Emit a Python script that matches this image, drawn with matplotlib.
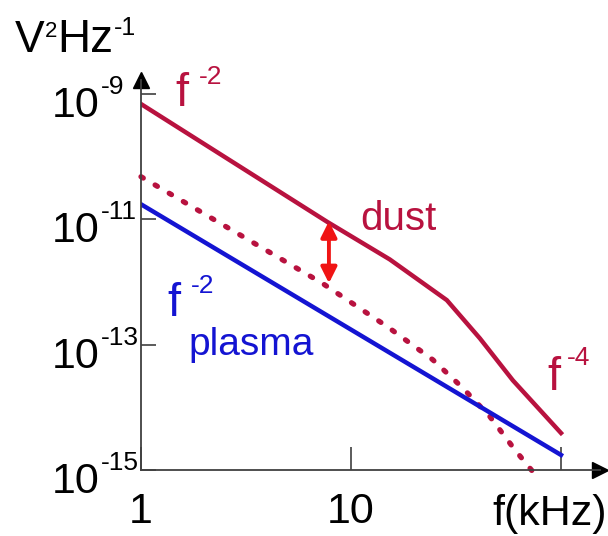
import numpy as np
import matplotlib
matplotlib.use("Agg")
import matplotlib.pyplot as plt

plt.rcParams["font.family"] = ["Liberation Sans", "DejaVu Sans"]

DUST = "#b8123f"
BLUE = "#1414d2"
ARROW = "#f01414"
AXIS = "#404040"

# values: f in kHz, log10 of spectral density in V^2/Hz
dust_f = [1, 7.7, 15.3, 28.6, 41.1, 59.0, 100]
dust_log_s = [-9.16, -11.04, -11.64, -12.29, -12.9, -13.57, -14.41]
dust_low_f = [1, 7.3, 15.0, 24.5, 33.8, 45.9, 60.4, 76.9]
dust_low_log_s = [-10.32, -12.02, -12.72, -13.24, -13.68, -14.15, -14.68, -15.11]
plasma_f = [1, 10, 100]
plasma_log_s = [-10.76, -12.76, -14.76]
gap_f = 7.85
gap_log_s = [-11.03, -12.02]

ytick_exp = [-9, -11, -13, -15]
xtick_vals = [1, 10, 100]
xtick_labels = ["1", "10", ""]

W, H = 608, 536
fig = plt.figure(figsize=(W / 100, H / 100), dpi=100)
ax = fig.add_axes([141 / W, 1 - 470 / H, (600 - 141) / W, (470 - 80) / H])
ax.set_xscale("log")
ax.set_yscale("log")
ax.set_xlim(1, 10 ** ((600 - 141) / 210))
ax.set_ylim(1e-15, 10 ** (-15 + (470 - 80) / 62.67))

ax.plot(dust_f, 10 ** np.array(dust_log_s), color=DUST, lw=3.2,
        solid_joinstyle="round")
ax.plot(dust_low_f, 10 ** np.array(dust_low_log_s), color=DUST, lw=3.8,
        ls=(0, (0.5, 2.6)), dash_capstyle="round", clip_on=False)
ax.plot(plasma_f, 10 ** np.array(plasma_log_s), color=BLUE, lw=3.2)
ax.annotate("", xy=(gap_f, 10 ** gap_log_s[0]), xytext=(gap_f, 10 ** gap_log_s[1]),
            arrowprops=dict(arrowstyle="<|-|>", color=ARROW, lw=2.8,
                            mutation_scale=24, shrinkA=0, shrinkB=0))

# axes with arrow heads
for side in ["top", "right"]:
    ax.spines[side].set_visible(False)
for side in ["left", "bottom"]:
    ax.spines[side].set_color(AXIS)
    ax.spines[side].set_linewidth(1.3)
ax.plot(1, 0, ">", color="black", ms=12, transform=ax.transAxes, clip_on=False)
ax.plot(0, 1, "^", color="black", ms=11, transform=ax.transAxes, clip_on=False)

ax.minorticks_off()
ax.set_xticks(xtick_vals)
ax.set_xticklabels(xtick_labels)
ax.set_yticks([10.0 ** e for e in ytick_exp])
ax.set_yticklabels([])
ax.tick_params(axis="x", direction="in", length=16.5, width=1.2, color=AXIS,
               labelsize=31, pad=16)
ax.tick_params(axis="y", direction="in", length=11, width=1.2, color=AXIS)

renderer = fig.canvas.get_renderer()


def rich_text(x, y, parts, color="black"):
    # x, y: pixels from the top-left, y is the baseline
    # parts: (text, fontsize, rise in px, gap before in px)
    for s, size, rise, gap in parts:
        x += gap
        t = fig.text(x / W, 1 - (y - rise) / H, s, fontsize=size, color=color,
                     ha="left", va="baseline")
        x = t.get_window_extent(renderer=renderer).x1


for e in ytick_exp:
    ty = H - ax.transData.transform((1, 10.0 ** e))[1]
    rich_text(52, ty + 23, [("10", 31, 0, 0), (str(e), 19, 23, 1)])

rich_text(15, 52, [("V", 32, 0, 0), ("2", 16, 15, 0), ("Hz", 33, 0, 0), ("-1", 18, 17, 1)])
rich_text(175, 106, [("f", 34, 0, 0), ("-2", 19, 22, 11)], color=DUST)
rich_text(167, 316, [("f", 34, 0, 0), ("-2", 19, 23, 11)], color=BLUE)
rich_text(547, 390, [("f", 34, 0, 0), ("-4", 19, 25, 7)], color=DUST)

fig.text(360 / W, 1 - 230 / H, "dust", fontsize=29, color=DUST, va="baseline")
fig.text(188 / W, 1 - 355 / H, "plasma", fontsize=28, color=BLUE, va="baseline")
fig.text(607 / W, 1 - 525 / H, "f(kHz)", fontsize=31, ha="right", va="baseline")

fig.savefig("out.png", dpi=100)
